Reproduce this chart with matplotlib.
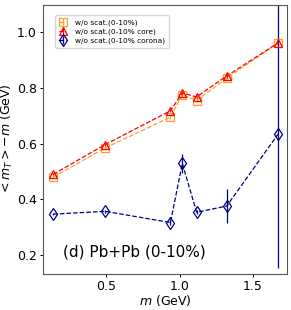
import numpy as np
import matplotlib
matplotlib.use('Agg')
import matplotlib.pyplot as plt

mass = [0.140, 0.494, 0.938, 1.019, 1.116, 1.321, 1.672]
mt_all = [0.480, 0.585, 0.695, 0.775, 0.755, 0.835, 0.962]
mt_core = [0.490, 0.597, 0.718, 0.782, 0.768, 0.843, 0.962]
mt_corona = [0.347, 0.357, 0.317, 0.529, 0.354, 0.376, 0.635]
err_all = [0.004, 0.004, 0.006, 0.008, 0.006, 0.006, 0.008]
err_core = [0.004, 0.004, 0.006, 0.008, 0.006, 0.006, 0.008]
err_corona = [0.004, 0.006, 0.008, 0.033, 0.008, 0.062, 0.48]

fig = plt.figure(figsize=(2.91, 3.10), dpi=100)
ax = fig.add_axes([0.148, 0.116, 0.838, 0.868])

ax.errorbar(mass, mt_all, yerr=err_all, color='#ff9e2c', marker='s', mfc='none',
            ms=5.5, mew=0.9, ls='--', lw=0.9, label='w/o scat.(0-10%)')
ax.errorbar(mass, mt_core, yerr=err_core, color='red', marker='^', mfc='none',
            ms=5.5, mew=0.9, ls='--', lw=0.9, label='w/o scat.(0-10% core)')
ax.errorbar(mass, mt_corona, yerr=err_corona, color='navy', marker='d', mfc='none',
            ms=6, mew=0.9, ls='--', lw=0.9, label='w/o scat.(0-10% corona)')

ax.set_xlim(0.071, 1.731)
ax.set_ylim(0.132, 1.098)
ax.set_xticks([0.5, 1.0, 1.5])
ax.set_yticks([0.2, 0.4, 0.6, 0.8, 1.0])
ax.tick_params(labelsize=9, length=2.5, width=0.7, pad=2)
ax.set_xlabel('$m$ (GeV)', fontsize=9, labelpad=0)
ax.set_ylabel('$<m_T> - m$ (GeV)', fontsize=9, labelpad=1)
ax.text(0.08, 0.065, '(d) Pb+Pb (0-10%)', transform=ax.transAxes, fontsize=11)
for s in ax.spines.values():
    s.set_color('#555555')

ax.legend(loc='upper left', fontsize=5.3, bbox_to_anchor=(0.035, 0.975),
          handlelength=1.0, borderpad=0.5, labelspacing=0.35, handletextpad=1.2)

fig.savefig('out.png', dpi=100)
